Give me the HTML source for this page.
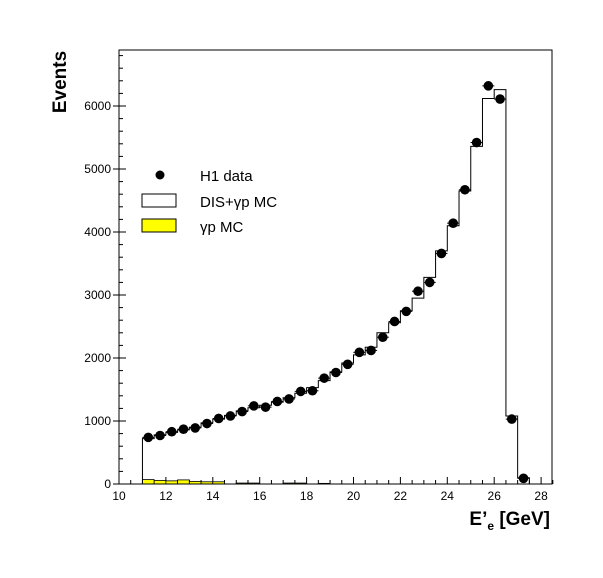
<!DOCTYPE html>
<html><head><meta charset="utf-8"><style>
html,body{margin:0;padding:0;background:#fff;}
svg{display:block;font-family:"Liberation Sans",sans-serif;}
</style></head><body>
<svg id="s" width="603" height="578" viewBox="0 0 603 578" xmlns="http://www.w3.org/2000/svg">
<rect x="0" y="0" width="603" height="578" fill="#fff"/>
<g id="g"></g>
<rect x="119" y="50" width="433" height="434" fill="none" stroke="#000" stroke-width="1"/>
<text x="0" y="0" transform="translate(66,82) rotate(-90)" text-anchor="middle" font-weight="bold" font-size="19">Events</text>
<text x="550" y="525" text-anchor="end" font-weight="bold" font-size="19">E’<tspan font-size="12" dy="5">e</tspan><tspan dy="-5"> [GeV]</tspan></text>
<circle cx="160" cy="175" r="4.5" fill="#000"/>
<text x="200" y="181" font-size="15">H1 data</text>
<rect x="142" y="194" width="34" height="13" fill="#fff" stroke="#000"/>
<text x="200" y="207" font-size="15">DIS+γp MC</text>
<rect x="142" y="219" width="34" height="13" fill="#ff0" stroke="#000"/>
<text x="200" y="232" font-size="15">γp MC</text>
</svg>
<script>
var g=document.getElementById('g'),NS="http://www.w3.org/2000/svg",o='';
function X(v){return 119+(v-10)*23.45;}
function Y(v){return 484-v*0.063;}
// y ticks
for(var i=0;i<=34;i++){var v=i*200,y=Y(v);if(y<50)break;
 if(i%5==0){o+='<line x1="113" x2="126" y1="'+y+'" y2="'+y+'" stroke="#000"/>';
  o+='<text x="111" y="'+(y+4)+'" font-size="12" text-anchor="end">'+v+'</text>';}
 else o+='<line x1="119" x2="123" y1="'+y+'" y2="'+y+'" stroke="#000"/>';}
// x ticks
for(var v=10;v<=28.5;v+=0.5){var x=X(v);var maj=Math.abs(v-Math.round(v/2)*2)<0.01;
 o+='<line x1="'+x+'" x2="'+x+'" y1="484" y2="'+(maj?477:480)+'" stroke="#000"/>';
 if(maj)o+='<text x="'+x+'" y="500" font-size="12" text-anchor="middle">'+v+'</text>';}
var d=[740,770,830,870,890,960,1040,1080,1150,1240,1220,1310,1350,1470,1480,1680,1770,1900,2090,2120,2330,2580,2740,3060,3200,3660,4140,4670,5420,6320,6110,1030,90];
var m=[720,780,820,860,900,970,1030,1090,1160,1210,1250,1300,1370,1440,1530,1640,1780,1920,2050,2170,2400,2560,2750,2950,3280,3700,4100,4650,5360,6120,6260,1080,100];
var yp=[70,55,50,65,40,35,35,0,15,15,0,0,15,15,0,10,0,0,0,0,0,0,0,0,0,0,0,0,0,0,0,0,0];
// yellow
for(var i=0;i<yp.length;i++){if(yp[i]>0){var x0=X(11+i*0.5);o+='<rect x="'+x0+'" y="'+Y(yp[i])+'" width="11.7" height="'+(484-Y(yp[i]))+'" fill="#ff0" stroke="#000" stroke-width="0.8"/>';}}
// MC hist
var p='M'+X(11)+' 484';
for(var i=0;i<m.length;i++){p+=' L'+X(11+i*0.5)+' '+Y(m[i])+' L'+X(11.5+i*0.5)+' '+Y(m[i]);}
p+=' L'+X(27.5)+' 484';
o+='<path d="'+p+'" fill="none" stroke="#000" stroke-width="1"/>';
for(var i=0;i<d.length;i++){var x=X(11.25+i*0.5),y=Y(d[i]);
 o+='<line x1="'+(x-6)+'" x2="'+(x+6)+'" y1="'+y+'" y2="'+y+'" stroke="#000"/>';
 o+='<circle cx="'+x+'" cy="'+y+'" r="4.8" fill="#000"/>';}
g.innerHTML=o;
</script>
</body></html>
